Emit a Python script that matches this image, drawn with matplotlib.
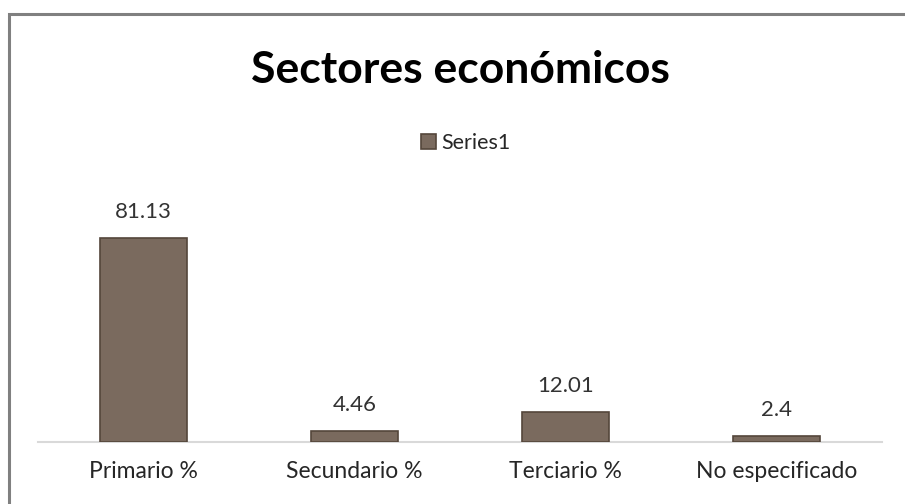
import matplotlib
matplotlib.use('Agg')
from matplotlib import pyplot as plt
from matplotlib.patches import Rectangle
import numpy as np

categories = ['Primario %', 'Secundario %', 'Terciario %', 'No especificado']
values = [81.13, 4.46, 12.01, 2.4]
value_labels = ['81.13', '4.46', '12.01', '2.4']
series_name = 'Series1'

plt.rcParams['font.family'] = ['Lato', 'DejaVu Sans']

fig = plt.figure(figsize=(9.05, 5.04), dpi=100)
W, H = 905, 504

# outer chart border (only top and left are visible in the reference)
fig.patches.append(Rectangle((9 / W, -0.1), 1.2, (H - 14) / H + 0.1,
                             transform=fig.transFigure, fill=False,
                             edgecolor='#808080', linewidth=2.2))

ax = fig.add_axes([38 / W, 62 / H, 844 / W, 226 / H])
x = np.arange(len(categories))
bars = ax.bar(x, values, width=0.41, color='#7a6a5e', edgecolor='#54463b',
              linewidth=1.2, label=series_name, zorder=3)

ax.set_xlim(-0.5, len(categories) - 0.5)
ax.set_ylim(0, 90)

for b, lab in zip(bars, value_labels):
    ax.annotate(lab, (b.get_x() + b.get_width() / 2, b.get_height()),
                xytext=(0, 16), textcoords='offset pixels',
                ha='center', va='bottom', fontsize=16, color='#333333')

for side in ['top', 'right', 'left']:
    ax.spines[side].set_visible(False)
ax.spines['bottom'].set_color('#d9d9d9')
ax.spines['bottom'].set_linewidth(1.5)
ax.set_yticks([])
ax.set_xticks(x)
ax.set_xticklabels(categories, fontsize=16.5, color='#262626')
ax.tick_params(axis='x', length=0, pad=14)

fig.text(460 / W, 1 - 70 / H, 'Sectores económicos', ha='center', va='center',
         fontsize=32, fontweight='bold', color='black')

ax.legend(loc='center', bbox_to_anchor=(466 / W, 1 - 143 / H),
          bbox_transform=fig.transFigure, frameon=False, fontsize=15.5,
          handlelength=0.7, handleheight=0.7, handletextpad=0.25,
          labelcolor='#262626')

fig.savefig('out.png', dpi=100)
